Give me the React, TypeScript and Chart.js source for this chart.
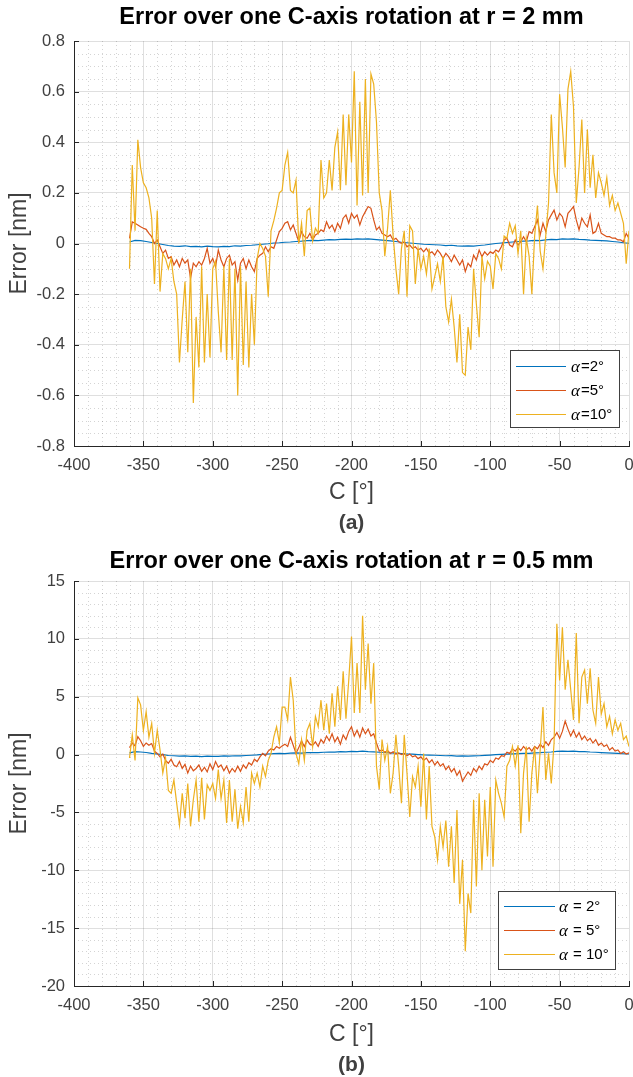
import React, { useEffect, useRef } from 'react';
import { Chart, registerables } from 'chart.js';

Chart.register(...registerables);

// ---------- sample angle grids (C in degrees) ----------
const C_FINE = Array.from({ length: 181 }, (_, i) => -360 + 2 * i);
const C_COARSE = Array.from({ length: 91 }, (_, i) => -360 + 4 * i);

// ---------- tick labels ----------
const X_TICKS = [-400, -350, -300, -250, -200, -150, -100, -50, 0];
const Y_TICKS_A = [-0.8, -0.6, -0.4, -0.2, 0, 0.2, 0.4, 0.6, 0.8];
const Y_TICKS_B = [-20, -15, -10, -5, 0, 5, 10, 15];

// ---------- series names ----------
const LABELS_A = ['α=2°', 'α=5°', 'α=10°'];
const LABELS_B = ['α = 2°', 'α = 5°', 'α = 10°'];

// ---------- (a) r = 2 mm ----------
const A_ALPHA2 = [
  0.006, 0.012, 0.011, 0.008, 0.004, 0.0, -0.004, -0.008, -0.01, -0.011,
  -0.009, -0.012, -0.011, -0.013, -0.01, -0.012, -0.013, -0.011, -0.012, -0.009,
  -0.01, -0.008, -0.007, -0.005, -0.003, -0.001, 0.002, 0.003, 0.005, 0.006,
  0.008, 0.009, 0.011, 0.012, 0.011, 0.013, 0.015, 0.014, 0.016, 0.017,
  0.016, 0.018, 0.017, 0.018, 0.016, 0.014, 0.012, 0.01, 0.008, 0.005,
  0.003, 0.001, -0.001, -0.003, -0.004, -0.005, -0.006, -0.008, -0.007, -0.009,
  -0.01, -0.009, -0.01, -0.008, -0.006, -0.003, 0.0, 0.002, 0.004, 0.006,
  0.008, 0.009, 0.01, 0.012, 0.011, 0.014, 0.016, 0.015, 0.018, 0.017,
  0.018, 0.016, 0.015, 0.013, 0.012, 0.011, 0.01, 0.008, 0.006, 0.003,
  0.001,
];

const A_ALPHA5 = [
  0.02, 0.085, 0.08, 0.073, 0.066, 0.06, 0.056, 0.04, 0.027, 0.0,
  0.014, -0.013, -0.039, -0.026, -0.059, -0.052, -0.085, -0.065, -0.092, -0.059,
  -0.078, -0.065, -0.138, -0.078, -0.092, -0.072, -0.085, -0.059, -0.019, -0.078,
  -0.059, -0.092, -0.026, -0.065, -0.092, -0.059, -0.046, -0.085, -0.072, -0.145,
  -0.078, -0.059, -0.099, -0.065, -0.092, -0.111, -0.059, -0.046, -0.039, -0.013,
  -0.033, -0.013, -0.019, 0.014, 0.047, 0.06, 0.08, 0.086, 0.054, 0.073,
  0.04, 0.007, 0.047, 0.027, 0.021, 0.04, 0.014, 0.034, 0.04, 0.054,
  0.047, 0.086, 0.06, 0.073, 0.047, 0.08, 0.06, 0.1, 0.113, 0.08,
  0.119, 0.1, 0.113, 0.073, 0.106, 0.126, 0.146, 0.139, 0.093, 0.054,
  0.066, 0.04, 0.034, 0.027, 0.034, 0.014, 0.021, 0.007, 0.001, 0.007,
  -0.013, -0.006, -0.019, -0.013, -0.026, -0.019, -0.033, -0.019, -0.039, -0.033,
  -0.046, -0.026, -0.039, -0.059, -0.039, -0.052, -0.072, -0.046, -0.065, -0.085,
  -0.065, -0.111, -0.078, -0.092, -0.046, -0.065, -0.026, -0.052, -0.033, -0.046,
  -0.033, -0.039, -0.026, -0.033, -0.013, 0.014, 0.021, -0.006, -0.013, 0.014,
  -0.006, 0.007, 0.027, 0.007, 0.047, 0.04, 0.066, 0.093, 0.034, 0.08,
  0.047, 0.093, 0.113, 0.132, 0.093, 0.119, 0.106, 0.066, 0.119, 0.132,
  0.146, 0.093, 0.054, 0.1, 0.08, 0.066, 0.113, 0.04, 0.047, 0.08,
  0.04, 0.034, 0.027, 0.027, 0.021, 0.021, 0.014, 0.014, 0.007, 0.04,
  0.02,
];

const A_ALPHA10 = [
  -0.1, 0.31, 0.05, 0.41, 0.3, 0.24, 0.22, 0.18, 0.1, -0.16,
  0.13, -0.19, -0.04, -0.06, -0.1, -0.06, -0.15, -0.2, -0.47, -0.3,
  -0.15, -0.43, -0.1, -0.63, -0.29, -0.49, -0.09, -0.47, -0.2, -0.45,
  -0.1, -0.07, -0.27, -0.43, -0.09, -0.46, -0.06, -0.46, -0.1, -0.6,
  -0.09, -0.48, -0.15, -0.49, -0.2, -0.4, -0.06, 0.0, -0.02, -0.05,
  -0.21, 0.05, 0.09, 0.14, 0.2, 0.21, 0.31, 0.36, 0.21, 0.2,
  0.25, 0.0, 0.08, -0.05, 0.13, 0.14, 0.01, 0.06, 0.04, 0.33,
  0.18, 0.2, 0.33, 0.21, 0.38, 0.44, 0.21, 0.51, 0.23, 0.51,
  0.32, 0.68, 0.15, 0.56, 0.19, 0.65, 0.2, 0.67, 0.63, 0.48,
  0.2, 0.13, -0.05, 0.06, 0.21, 0.03, -0.1, -0.2, -0.02, 0.05,
  -0.21, 0.07, 0.05, -0.16, -0.02, -0.1, -0.05, -0.12, -0.02, -0.18,
  -0.13, -0.08, -0.15, -0.05, -0.25, -0.31, -0.22, -0.33, -0.47, -0.28,
  -0.51, -0.52, -0.33, -0.42, -0.1, -0.24, -0.37, -0.05, -0.14, -0.07,
  -0.09, -0.18, -0.04, -0.06, -0.1, 0.03, 0.02, 0.08, 0.04, 0.07,
  -0.04, 0.05, -0.2, 0.02, -0.05, -0.2, 0.03, 0.15, -0.03, -0.1,
  0.03, 0.16, 0.51, 0.28, 0.2, 0.59, 0.46, 0.3, 0.61, 0.68,
  0.54, 0.16, 0.3, 0.49, 0.2, 0.45, 0.22, 0.35, 0.18, 0.28,
  0.24, 0.19, 0.26, 0.15, 0.19, 0.13, 0.16, 0.12, 0.08, -0.08,
  0.05,
];

// ---------- (b) r = 0.5 mm ----------
const B_ALPHA2 = [
  0.15, 0.25, 0.22, 0.18, 0.1, 0.05, 0.0, -0.08, -0.1, -0.14,
  -0.12, -0.16, -0.14, -0.17, -0.13, -0.16, -0.15, -0.12, -0.14, -0.1,
  -0.11, -0.08, -0.06, -0.03, 0.02, 0.05, 0.08, 0.1, 0.09, 0.12,
  0.14, 0.13, 0.17, 0.18, 0.16, 0.2, 0.22, 0.21, 0.25, 0.24,
  0.28, 0.26, 0.29, 0.25, 0.24, 0.2, 0.18, 0.14, 0.12, 0.08,
  0.05, 0.03, 0.0, -0.03, -0.04, -0.06, -0.08, -0.1, -0.09, -0.13,
  -0.12, -0.14, -0.11, -0.1, -0.07, -0.04, -0.01, 0.02, 0.04, 0.06,
  0.08, 0.1, 0.11, 0.14, 0.16, 0.2, 0.22, 0.28, 0.3, 0.27,
  0.29, 0.25, 0.26, 0.22, 0.2, 0.17, 0.15, 0.12, 0.1, 0.07,
  0.05,
];

const B_ALPHA5 = [
  0.6, 1.0, 0.75, 1.55, 1.2, 0.7, 1.0, 0.8, 0.95, 0.3,
  0.1, -0.2, 0.05, -0.5, -0.75, -0.4, -0.9, -1.05, -0.6, -1.2,
  -0.85, -1.6, -1.0, -1.4, -1.2, -0.9, -1.45, -1.1, -1.5, -0.8,
  -1.3, -0.6, -1.1, -0.9, -1.4, -1.0, -1.6, -1.2, -1.5, -1.0,
  -1.45, -0.9, -1.2, -0.7, -0.9, -0.4, -0.6, -0.2, 0.1, -0.1,
  0.3, 0.5, 0.4, 0.7, 0.55, 0.75, 0.9, 0.7, 1.5, 0.8,
  0.1, 0.6, 1.2, 0.7, 1.25, 0.9, 0.8, 1.1, 0.7, 1.3,
  1.0, 1.6, 1.2, 1.8, 1.1, 1.5, 0.9, 1.7, 1.3, 2.0,
  2.4, 1.6, 2.1, 1.5, 2.3, 1.8, 2.2, 1.6, 1.8, 1.0,
  0.3, 0.4, 0.2, 0.35, 0.1, 0.25, 0.05, 0.15, 0.0, 0.1,
  -0.1, 0.05, -0.2, -0.1, -0.35, -0.2, -0.5, -0.3, -0.7, -0.45,
  -0.9, -0.6, -1.0, -0.8, -1.3, -1.0, -1.5, -1.2, -1.8, -1.4,
  -2.3, -1.9, -1.5, -1.8, -1.2, -1.5, -1.0, -1.3, -0.8, -0.9,
  -0.5, -0.7, -0.3, -0.4, -0.1, -0.15, 0.2, 0.1, 0.5, 0.3,
  0.6, 0.35, 0.7, 0.4, 0.6, 0.3, 0.7, 0.5, 0.9, 0.6,
  1.1, 0.8, 1.3, 1.5, 1.9, 1.4, 2.0, 2.9, 2.2, 1.6,
  2.1, 1.5, 1.9, 1.3, 1.6, 1.2, 1.4, 1.0, 1.3, 0.8,
  1.0, 0.7, 0.85, 0.4, 0.6, 0.3, 0.4, 0.1, 0.25, 0.05,
  0.15,
];

const B_ALPHA10 = [
  -0.3, 1.7, -0.5, 4.9, 4.3, 2.1, 3.7, 1.5, 2.7, 0.1,
  2.1, 0.4, -1.6, -0.3, -3.1, -3.35, -2.2, -4.2, -6.1, -3.35,
  -5.5, -2.5, -6.2, -3.9, -2.2, -5.8, -2.0, -5.6, -2.6, -3.1,
  -2.5, -3.8, -1.3, -3.8, -2.2, -5.9, -2.2, -5.8, -3.0, -6.4,
  -4.5, -5.9, -2.8, -5.8, -1.6, -2.5, -1.6, -2.8, -1.0, -1.9,
  -0.5, 0.1, 1.5, 2.4, 1.0, 4.1, 4.1, 3.0, 6.7, 4.7,
  0.1, -0.8, 1.3, -0.5, 2.1, 2.7, 0.7, 3.3, 2.4, 4.7,
  2.1, 4.4, 1.8, 5.3, 2.4, 5.9, 3.0, 7.2, 3.1, 6.4,
  10.2, 3.6, 7.9, 3.6, 12.0, 5.6, 9.6, 4.4, 7.9, -1.0,
  -3.0, 1.3, -0.5, 0.7, -3.35, -1.6, 1.7, -1.0, -4.2, 1.7,
  -1.6, -5.4, -1.9, -2.8, -1.0, -4.5, 0.1, -5.6, -1.0, -6.2,
  -7.1, -9.1, -6.2, -8.0, -5.7, -9.7, -6.2, -11.1, -4.8, -12.9,
  -9.1, -17.0, -12.0, -13.7, -3.9, -11.4, -3.35, -10.0, -3.9, -8.8,
  -2.8, -9.7, -2.2, -3.35, -4.2, -5.4, -1.0, -0.5, 0.7, -1.0,
  0.8, -6.8, -1.6, 0.7, -5.8, -1.6, 0.7, -3.35, 0.4, 4.1,
  -2.2, 0.1, -2.5, 1.0, 11.3, 6.4, 11.0, 5.6, 8.2, 5.6,
  3.0, 10.5, 2.7, 6.7, 7.3, 4.4, 7.45, 3.85, 2.7, 6.7,
  3.5, 4.4, 2.4, 3.3, 1.8, 3.0, 2.1, 2.7, 1.3, 1.6,
  0.7,
];

// ---------- styling ----------
const SANS = "'Liberation Sans', Arial, Helvetica, sans-serif";
const COLORS = ['#0072BD', '#D95319', '#EDB120'];
const AXIS_COLOR = '#262626';
const TEXT_GRAY = '#404040';
const MAJOR_GRID = 'rgba(38,38,38,0.15)';
const MINOR_GRID = 'rgba(38,38,38,0.2)';

const axesDecor = {
  id: 'axesDecor',
  beforeDatasetsDraw(chart: any, _args: any, o: any) {
    const { ctx, chartArea: a, scales } = chart;
    const x = scales.x;
    const y = scales.y;
    ctx.save();
    ctx.lineWidth = 1;
    ctx.strokeStyle = o.minorColor;
    ctx.setLineDash([1, 3]);
    ctx.beginPath();
    const isMajor = (v: number, m: number) => Math.abs(v / m - Math.round(v / m)) < 1e-6;
    for (let i = 0; ; i++) {
      const v = x.min + i * o.xMinor;
      if (v > x.max + 1e-9) break;
      if (isMajor(v, o.xMajor)) continue;
      const px = Math.round(x.getPixelForValue(v)) + 0.5;
      ctx.moveTo(px, a.top);
      ctx.lineTo(px, a.bottom);
    }
    for (let i = 0; ; i++) {
      const v = y.min + i * o.yMinor;
      if (v > y.max + 1e-9) break;
      if (isMajor(v, o.yMajor)) continue;
      const py = Math.round(y.getPixelForValue(v)) + 0.5;
      ctx.moveTo(a.left, py);
      ctx.lineTo(a.right, py);
    }
    ctx.stroke();
    ctx.setLineDash([]);
    ctx.strokeStyle = o.tickColor;
    ctx.beginPath();
    for (const t of x.ticks) {
      const px = Math.round(x.getPixelForValue(t.value)) + 0.5;
      ctx.moveTo(px, a.bottom);
      ctx.lineTo(px, a.bottom - o.tickLen);
    }
    for (const t of y.ticks) {
      const py = Math.round(y.getPixelForValue(t.value)) + 0.5;
      ctx.moveTo(a.left, py);
      ctx.lineTo(a.left + o.tickLen, py);
    }
    ctx.stroke();
    ctx.restore();
  },
};

const boxLegend = {
  id: 'boxLegend',
  afterDraw(chart: any, _args: any, o: any) {
    const { ctx, chartArea: a } = chart;
    const right = Math.round(a.right - o.right);
    const bottom = Math.round(a.bottom - o.bottom);
    const left = right - o.width;
    const top = bottom - o.height;
    ctx.save();
    ctx.fillStyle = '#ffffff';
    ctx.fillRect(left, top, o.width, o.height);
    ctx.strokeStyle = o.borderColor;
    ctx.lineWidth = 1;
    ctx.strokeRect(left + 0.5, top + 0.5, o.width, o.height);
    chart.data.datasets.forEach((ds: any, i: number) => {
      const yy = Math.round(top + o.firstRow + i * o.rowGap) + 0.5;
      ctx.strokeStyle = ds.borderColor;
      ctx.lineWidth = 1.2;
      ctx.beginPath();
      ctx.moveTo(left + o.lineStart, yy);
      ctx.lineTo(left + o.lineEnd, yy);
      ctx.stroke();
      const label: string = ds.label;
      const greek = label.slice(0, 1);
      const rest = label.slice(1);
      ctx.textBaseline = 'middle';
      ctx.textAlign = 'left';
      ctx.fillStyle = '#000000';
      let tx = left + o.textStart;
      ctx.font = `italic ${o.greekSize}px 'Liberation Serif', 'DejaVu Serif', serif`;
      ctx.fillText(greek, tx, yy + 1);
      tx += ctx.measureText(greek).width + 1;
      ctx.font = `${o.fontSize}px ${SANS}`;
      ctx.fillText(rest, tx, yy);
    });
    ctx.restore();
  },
};

type PanelProps = {
  height: number;
  title: string;
  titlePad: { top: number; bottom: number };
  sub: string;
  subPadBottom: number;
  xScaleHeight: number;
  yTicks: number[];
  yMinor: number;
  yMajor: number;
  labels: string[];
  s2: number[];
  s5: number[];
  s10: number[];
  legend: any;
};

function Panel(p: PanelProps) {
  const ref = useRef<HTMLCanvasElement | null>(null);
  useEffect(() => {
    if (!ref.current) return;
    const mk = (xs: number[], ys: number[]) => xs.map((c, i) => ({ x: c, y: ys[i] }));
    const chart = new Chart(ref.current, {
      type: 'line',
      data: {
        datasets: [
          { label: p.labels[0], data: mk(C_COARSE, p.s2), borderColor: COLORS[0], order: 2 },
          { label: p.labels[1], data: mk(C_FINE, p.s5), borderColor: COLORS[1], order: 1 },
          { label: p.labels[2], data: mk(C_FINE, p.s10), borderColor: COLORS[2], order: 0 },
        ] as any,
      },
      options: {
        responsive: false,
        animation: false,
        devicePixelRatio: 1,
        layout: { padding: { left: 0, right: 4, top: 0, bottom: 0 } },
        elements: {
          point: { radius: 0, hoverRadius: 0 },
          line: { borderWidth: 1.2, tension: 0, fill: false },
        },
        plugins: {
          legend: { display: false },
          tooltip: { enabled: false },
          title: {
            display: true,
            text: p.title,
            color: '#000000',
            font: { family: SANS, size: 23.5, weight: 'bold', lineHeight: 1.2 },
            padding: p.titlePad,
            fullSize: false,
          },
          subtitle: {
            display: true,
            text: p.sub,
            position: 'bottom',
            color: TEXT_GRAY,
            font: { family: SANS, size: 21, weight: 'bold', lineHeight: 1 },
            padding: { top: 0, bottom: p.subPadBottom },
            fullSize: false,
          },
          axesDecor: {
            minorColor: MINOR_GRID,
            tickColor: AXIS_COLOR,
            xMinor: 10,
            xMajor: 50,
            yMinor: p.yMinor,
            yMajor: p.yMajor,
            tickLen: 5,
          },
          boxLegend: p.legend,
        } as any,
        scales: {
          x: {
            type: 'linear',
            min: -400,
            max: 0,
            afterBuildTicks: (s: any) => {
              s.ticks = X_TICKS.map((v) => ({ value: v }));
            },
            afterFit: (s: any) => {
              s.height = p.xScaleHeight;
              s.paddingLeft = 0;
              s.paddingRight = 0;
            },
            ticks: {
              color: TEXT_GRAY,
              font: { family: SANS, size: 16.5, lineHeight: 1.2 },
              padding: 9.1,
              maxRotation: 0,
              autoSkip: false,
              callback: (v: any) => String(v),
            },
            grid: { color: MAJOR_GRID, lineWidth: 1, drawTicks: false },
            border: { color: AXIS_COLOR, width: 1 },
            title: {
              display: true,
              text: 'C [°]',
              color: TEXT_GRAY,
              font: { family: SANS, size: 23, lineHeight: 1.2 },
              padding: { top: 0, bottom: 5.7 },
            },
          },
          y: {
            type: 'linear',
            min: p.yTicks[0],
            max: p.yTicks[p.yTicks.length - 1],
            afterBuildTicks: (s: any) => {
              s.ticks = p.yTicks.map((v) => ({ value: v }));
            },
            afterFit: (s: any) => {
              s.width = 74;
              s.paddingTop = 0;
              s.paddingBottom = 0;
            },
            ticks: {
              color: TEXT_GRAY,
              font: { family: SANS, size: 16.5, lineHeight: 1.2 },
              padding: 9,
              autoSkip: false,
              callback: (v: any) => String(v),
            },
            grid: { color: MAJOR_GRID, lineWidth: 1, drawTicks: false },
            border: { color: AXIS_COLOR, width: 1 },
            title: {
              display: true,
              text: 'Error [nm]',
              color: TEXT_GRAY,
              font: { family: SANS, size: 23, lineHeight: 1.2 },
              padding: { top: 6.2, bottom: 0 },
            },
          },
        },
      },
      plugins: [axesDecor as any, boxLegend as any],
    });
    return () => chart.destroy();
  }, []);
  return (
    <div style={{ width: 633, height: p.height }}>
      <canvas
        ref={ref}
        width={633}
        height={p.height}
        style={{ display: 'block', width: 633, height: p.height }}
      />
    </div>
  );
}

export default function App() {
  return (
    <div style={{ position: 'absolute', left: 0, top: 0, width: 633, background: '#ffffff' }}>
      <Panel
        height={540}
        title="Error over one C-axis rotation at r = 2 mm"
        titlePad={{ top: 3.9, bottom: 8.9 }}
        sub="(a)"
        subPadBottom={6.5}
        xScaleHeight={66.5}
        yTicks={Y_TICKS_A}
        yMinor={0.05}
        yMajor={0.2}
        labels={LABELS_A}
        s2={A_ALPHA2}
        s5={A_ALPHA5}
        s10={A_ALPHA10}
        legend={{
          right: 10,
          bottom: 19,
          width: 109,
          height: 77,
          firstRow: 15.5,
          rowGap: 24,
          lineStart: 6,
          lineEnd: 56,
          textStart: 61,
          fontSize: 15,
          greekSize: 17,
          borderColor: '#404040',
        }}
      />
      <Panel
        height={537}
        title="Error over one C-axis rotation at r = 0.5 mm"
        titlePad={{ top: 7.9, bottom: 4.9 }}
        sub="(b)"
        subPadBottom={1.5}
        xScaleHeight={68.5}
        yTicks={Y_TICKS_B}
        yMinor={1}
        yMajor={5}
        labels={LABELS_B}
        s2={B_ALPHA2}
        s5={B_ALPHA5}
        s10={B_ALPHA10}
        legend={{
          right: 14,
          bottom: 17,
          width: 117,
          height: 78,
          firstRow: 15,
          rowGap: 24,
          lineStart: 6,
          lineEnd: 57,
          textStart: 61,
          fontSize: 15,
          greekSize: 17,
          borderColor: '#404040',
        }}
      />
    </div>
  );
}
